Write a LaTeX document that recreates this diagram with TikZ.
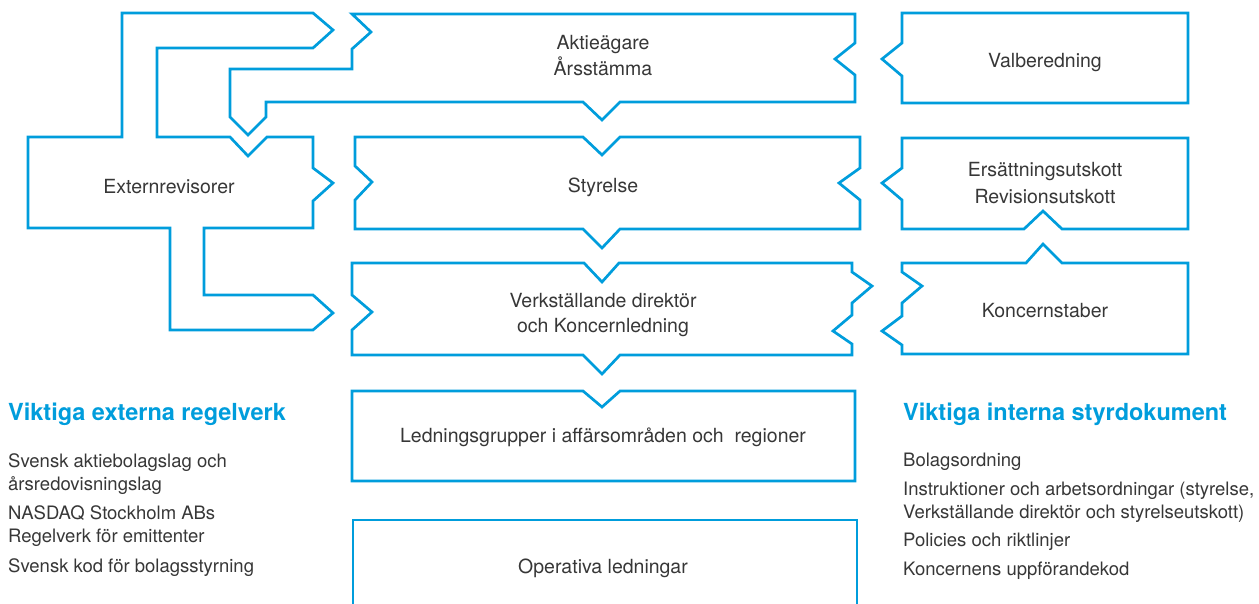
\documentclass[tikz,border=0pt]{standalone}
\usepackage{fontspec}
\setmainfont{TeX Gyre Heros}
\definecolor{lineblue}{RGB}{0,157,220}
\definecolor{txtgray}{RGB}{55,55,55}
\tikzset{
  shp/.style={draw=lineblue, line width=2.7pt, line join=miter},
  lbl/.style={text=txtgray, font=\fontsize{19.5}{26}\selectfont, anchor=base, inner sep=0pt},
  headtxt/.style={text=lineblue, font=\fontsize{23.5}{28}\selectfont\bfseries, anchor=base west, inner sep=0pt},
  itemtxt/.style={text=txtgray, font=\fontsize{18.5}{24}\selectfont, anchor=base west, inner sep=0pt},
}
\begin{document}
\begin{tikzpicture}[x=1pt, y=-1pt]
\useasboundingbox (0,0) rectangle (1259,604);

% Externrevisorer
\draw[shp] (122,13) -- (313,13) -- (333,30) -- (313,48) -- (157,48) -- (157,137) -- (230,137) -- (248,156) -- (267,137) -- (313,137) -- (313,168) -- (333,183) -- (313,201) -- (313,228) -- (204,228) -- (204,295) -- (313,295) -- (333,313) -- (313,330) -- (170,330) -- (170,228) -- (28,228) -- (28,137) -- (122,137) -- cycle;
% Aktieagare
\draw[shp] (352,14) -- (371,32) -- (352,49) -- (352,69) -- (230,69) -- (230,117) -- (248,135) -- (266,117) -- (266,102) -- (583,102) -- (602,120) -- (620,102) -- (855,102) -- (855,75) -- (835,59) -- (855,43) -- (855,14) -- cycle;
% Valberedning
\draw[shp] (902,13) -- (1188,13) -- (1188,103) -- (902,103) -- (902,76) -- (882,59) -- (902,43) -- cycle;
% Styrelse
\draw[shp] (355,137) -- (583,137) -- (602,155) -- (620,137) -- (860,137) -- (860,168) -- (839,183) -- (860,200) -- (860,229) -- (620,229) -- (602,248) -- (583,229) -- (355,229) -- (355,200) -- (372,182) -- (355,166) -- cycle;
% Ersattning / Revision
\draw[shp] (902,138) -- (1188,138) -- (1188,229) -- (1062,229) -- (1043,211) -- (1024,229) -- (902,229) -- (902,200) -- (882,183) -- (902,168) -- cycle;
% VD
\draw[shp] (352,263) -- (584,263) -- (602,282) -- (619,263) -- (852,263) -- (852,272) -- (872,286) -- (852,303) -- (852,315) -- (833,331) -- (852,344) -- (852,355) -- (620,355) -- (602,374) -- (583,355) -- (352,355) -- (352,330) -- (372,312) -- (352,295) -- cycle;
% Koncernstaber
\draw[shp] (902,263) -- (1026,263) -- (1043,244) -- (1062,263) -- (1188,263) -- (1188,354) -- (902,354) -- (902,345) -- (882,331) -- (902,316) -- (902,303) -- (922,286) -- (902,272) -- cycle;
% Ledningsgrupper
\draw[shp] (352,391) -- (583,391) -- (602,407) -- (620,391) -- (855,391) -- (855,481) -- (352,481) -- cycle;
% Operativa
\draw[shp] (353,610) -- (353,520) -- (857,520) -- (857,610);

% Box labels
\node[lbl] (ext) at (169,194) {Externrevisorer};
\node[lbl] (akt1) at (603,50) {Aktieägare};
\node[lbl] (akt2) at (603,76) {Årsstämma};
\node[lbl] (val) at (1045,68) {Valberedning};
\node[lbl] (sty) at (603,193) {Styrelse};
\node[lbl] (ers1) at (1045,177) {Ersättningsutskott};
\node[lbl] (ers2) at (1045,204) {Revisionsutskott};
\node[lbl] (vd1) at (603,307) {Verkställande direktör};
\node[lbl] (vd2) at (603,332) {och Koncernledning};
\node[lbl] (kon) at (1045,317) {Koncernstaber};
\node[lbl] (led) at (603,442) {Ledningsgrupper i affärsområden och~ regioner};
\node[lbl] (ope) at (603,573) {Operativa ledningar};

% Left list
\node[headtxt] (exth) at (8,420) {Viktiga externa regelverk};
\node[itemtxt] (e1) at (8,467) {Svensk aktiebolagslag och};
\node[itemtxt] (e2) at (8,490) {årsredovisningslag};
\node[itemtxt] (e3) at (8,519) {NASDAQ Stockholm ABs};
\node[itemtxt] (e4) at (8,542) {Regelverk för emittenter};
\node[itemtxt] (e5) at (8,572) {Svensk kod för bolagsstyrning};

% Right list
\node[headtxt] (inth) at (903,420) {Viktiga interna styrdokument};
\node[itemtxt] (i1) at (903,466) {Bolagsordning};
\node[itemtxt] (i2) at (903,495) {Instruktioner och arbetsordningar (styrelse,};
\node[itemtxt] (i3) at (903,518) {Verkställande direktör och styrelseutskott)};
\node[itemtxt] (i4) at (903,546) {Policies och riktlinjer};
\node[itemtxt] (i5) at (903,575) {Koncernens uppförandekod};
\end{tikzpicture}
\end{document}
